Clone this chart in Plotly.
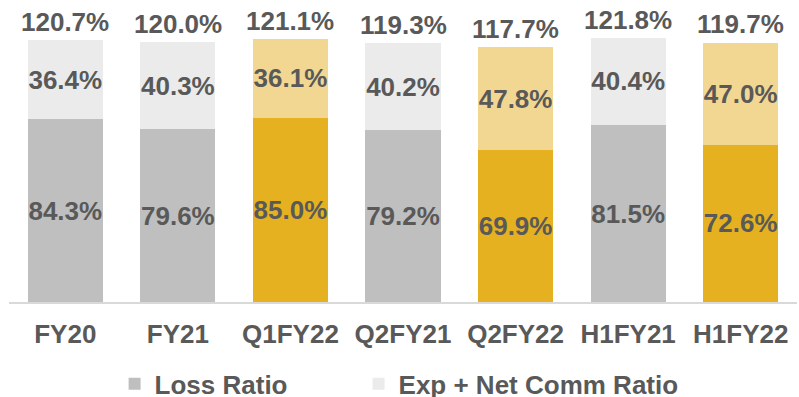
import plotly.graph_objects as go

categories = ["FY20", "FY21", "Q1FY22", "Q2FY21", "Q2FY22", "H1FY21", "H1FY22"]
loss_ratio = [84.3, 79.6, 85.0, 79.2, 69.9, 81.5, 72.6]
exp_comm_ratio = [36.4, 40.3, 36.1, 40.2, 47.8, 40.4, 47.0]
combined_ratio = [120.7, 120.0, 121.1, 119.3, 117.7, 121.8, 119.7]
highlight = [False, False, True, False, True, False, True]

GRAY_DARK, GRAY_LIGHT = "#bfbfbf", "#ebebeb"
GOLD_DARK, GOLD_LIGHT = "#e5b120", "#f2d792"
TEXT = "#595959"
FONT = "Liberation Sans, Arial, sans-serif"
FS = 26

loss_colors = [GOLD_DARK if h else GRAY_DARK for h in highlight]
exp_colors = [GOLD_LIGHT if h else GRAY_LIGHT for h in highlight]

label_font = dict(family=FONT, size=FS, color=TEXT, weight="bold")

fig = go.Figure()
fig.add_bar(
    x=categories, y=loss_ratio, name="Loss Ratio", legend="legend",
    marker=dict(color=loss_colors, line=dict(width=0)),
    text=[f"{v:.1f}%" for v in loss_ratio], textposition="inside",
    insidetextanchor="middle", constraintext="none", textangle=0,
    textfont=label_font, hoverinfo="skip",
)
fig.add_bar(
    x=categories, y=exp_comm_ratio, name="Exp + Net Comm Ratio", legend="legend2",
    marker=dict(color=exp_colors, line=dict(width=0)),
    text=[f"{v:.1f}%" for v in exp_comm_ratio], textposition="inside",
    insidetextanchor="middle", constraintext="none", textangle=0,
    textfont=label_font, hoverinfo="skip",
)

# Combined ratio totals above each stack
for c, t in zip(categories, combined_ratio):
    fig.add_annotation(
        x=c, y=t, text=f"{t:.1f}%", showarrow=False,
        yanchor="bottom", yshift=1, font=label_font,
    )

legend_common = dict(
    orientation="h", xanchor="left", y=-0.29, yanchor="middle",
    font=label_font, bgcolor="rgba(0,0,0,0)",
)

fig.update_layout(
    width=799, height=397,
    barmode="stack", bargap=0.333,
    margin=dict(l=9, r=2, t=20, b=95, autoexpand=False),
    paper_bgcolor="white", plot_bgcolor="white",
    showlegend=True,
    legend=dict(x=0.134, **legend_common),
    legend2=dict(x=0.4436, **legend_common),
    xaxis=dict(
        showline=True, linecolor="#d9d9d9", linewidth=2,
        showgrid=False, ticks="", ticklabelstandoff=8,
        tickfont=label_font,
    ),
    yaxis=dict(range=[0, 130], visible=False, showgrid=False),
)

fig.write_html("out.html")
